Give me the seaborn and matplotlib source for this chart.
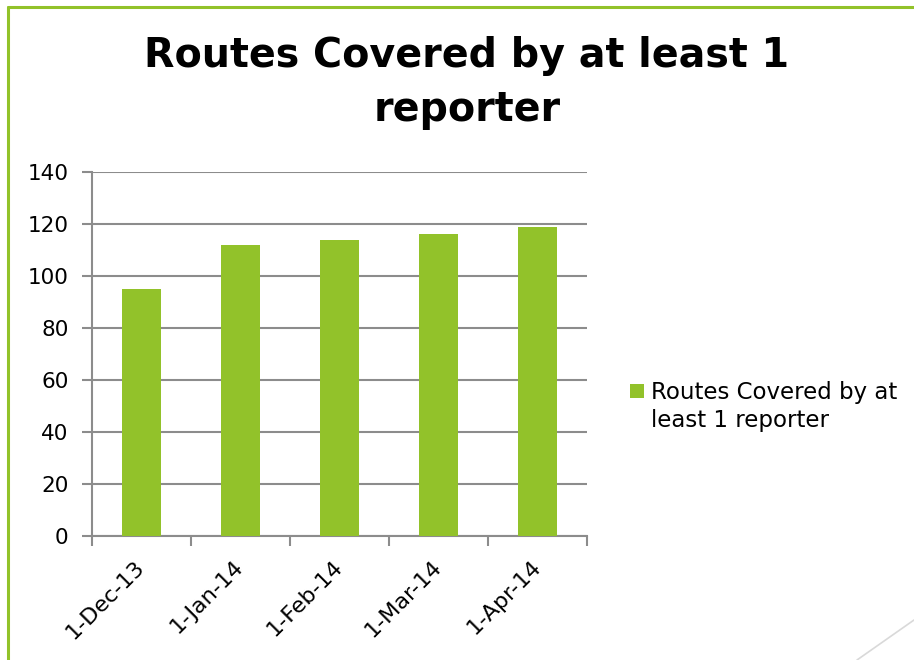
import matplotlib
matplotlib.use("Agg")
import matplotlib.pyplot as plt
import seaborn as sns
import pandas as pd
from matplotlib.lines import Line2D
from matplotlib.patches import Patch, Rectangle
from matplotlib.legend_handler import HandlerBase

categories = ["1-Dec-13", "1-Jan-14", "1-Feb-14", "1-Mar-14", "1-Apr-14"]
values = [95, 112, 114, 116, 119]
series_name = "Routes Covered by at least 1 reporter"
yticks = [0, 20, 40, 60, 80, 100, 120, 140]

sns.set_theme(style="white")
plt.rcParams['font.family'] = ['DejaVu Sans']
plt.rcParams['text.color'] = 'black'
plt.rcParams['xtick.color'] = 'black'
plt.rcParams['ytick.color'] = 'black'

GREEN = "#92C22A"
GRAY = "#8C8C8C"

df = pd.DataFrame({"date": categories, "routes": values})

fig = plt.figure(figsize=(9.14, 6.6), dpi=100)
W, H = 914, 660
ax = fig.add_axes([92 / W, 1 - 536 / H, (587 - 92) / W, (536 - 172) / H])

sns.barplot(data=df, x="date", y="routes", color=GREEN, width=0.4,
            saturation=1, ax=ax, zorder=3, linewidth=0, edgecolor="none")

ax.set_ylim(0, 140)
ax.set_xlim(-0.5, len(categories) - 0.5)
ax.set_yticks(yticks)
ax.set_yticklabels([str(v) for v in yticks], fontsize=15.5, color="black")
ax.yaxis.grid(True, color=GRAY, linewidth=1.5, zorder=0)
ax.set_axisbelow(True)

for s in ["top", "right"]:
    ax.spines[s].set_visible(False)
for s in ["left", "bottom"]:
    ax.spines[s].set_color(GRAY)
    ax.spines[s].set_linewidth(1.5)

ax.tick_params(axis="y", which="major", direction="out", length=7, width=1.5,
               color=GRAY, pad=10, left=True, labelcolor="black")

# x: tick marks at category boundaries, labels at centers
ax.set_xticks([i - 0.5 for i in range(len(categories) + 1)], minor=False)
ax.set_xticklabels([])
ax.set_xticks(list(range(len(categories))), minor=True)
ax.set_xticklabels(categories, minor=True, rotation=45, ha="right", va="center",
                   rotation_mode="anchor", fontsize=16, color="black")
ax.tick_params(axis="x", which="major", direction="out", length=7, width=1.5,
               color=GRAY, bottom=True)
ax.tick_params(axis="x", which="minor", length=0, pad=20)
ax.set_xlabel("")
ax.set_ylabel("")

fig.text(467 / W, 1 - 83 / H, "Routes Covered by at least 1\nreporter",
         ha="center", va="center", fontsize=28.5, fontweight="bold",
         linespacing=1.45, color="black")


class TopSquare(HandlerBase):
    def create_artists(self, legend, orig_handle, xdescent, ydescent, width,
                       height, fontsize, trans):
        s = width
        r = Rectangle((-xdescent, -ydescent + height - s + fontsize * 0.22), s, s,
                      facecolor=orig_handle.get_facecolor(), edgecolor="none",
                      transform=trans)
        return [r]


handle = Patch(facecolor=GREEN, edgecolor="none")
leg = fig.legend([handle], ["Routes Covered by at\nleast 1 reporter"],
                 loc="upper left", bbox_to_anchor=(630 / W, 1 - 381 / H),
                 frameon=False, fontsize=16.5, handlelength=0.61,
                 handleheight=2.3, handletextpad=0.32, borderpad=0,
                 borderaxespad=0, handler_map={Patch: TopSquare()})
for t in leg.get_texts():
    t.set_linespacing(1.3)
    t.set_color("black")

# slide decorations: green frame and faint diagonal
fig.add_artist(Line2D([8 / W, 8 / W], [0, 1 - 7 / H], color=GREEN, linewidth=2.2,
                      transform=fig.transFigure))
fig.add_artist(Line2D([8 / W, 1], [1 - 7 / H, 1 - 7 / H], color=GREEN, linewidth=2.2,
                      transform=fig.transFigure))
fig.add_artist(Line2D([857 / W, 1], [0, 1 - 620 / H], color="#D9D9D9", linewidth=1.2,
                      transform=fig.transFigure))

fig.savefig("out.png", dpi=100)
